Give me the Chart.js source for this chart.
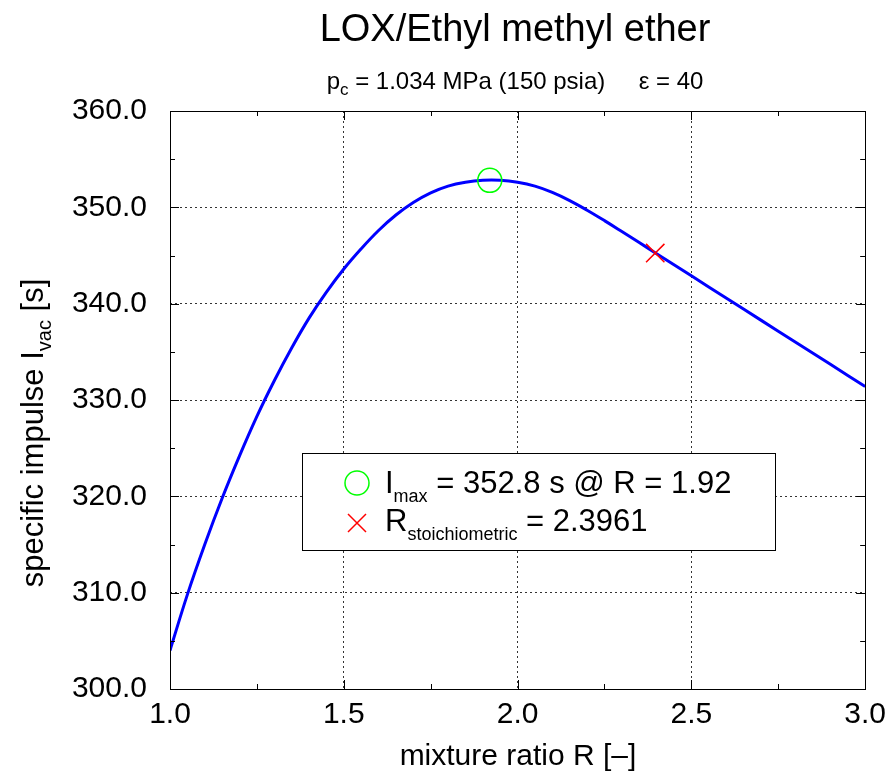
<!DOCTYPE html>
<html>
<head>
<meta charset="utf-8">
<title>LOX/Ethyl methyl ether</title>
<script src="https://cdn.jsdelivr.net/npm/chart.js@4"></script>
<style>
  html, body { margin: 0; padding: 0; background: #fff; }
  canvas { display: block; }
</style>
</head>
<body>
<canvas id="ispChart" width="894" height="775"></canvas>
<script>
// data
const MIXTURE_RATIO = [1.00, 1.05, 1.10, 1.15, 1.20, 1.25, 1.30, 1.35, 1.40, 1.45,
  1.50, 1.55, 1.60, 1.65, 1.70, 1.75, 1.80, 1.85, 1.90, 1.95,
  2.00, 2.05, 2.10, 2.15, 2.20, 2.25, 2.30, 2.35, 2.40, 2.45,
  2.50, 2.60, 2.70, 2.80, 2.90, 3.00];
const ISP_VAC = [304.0, 309.8, 315.0, 319.8, 324.2, 328.3, 332.0, 335.4, 338.5, 341.2,
  343.6, 345.7, 347.6, 349.2, 350.5, 351.5, 352.2, 352.6, 352.8, 352.8,
  352.6, 352.2, 351.55, 350.7, 349.7, 348.62, 347.49, 346.34, 345.19, 344.04,
  342.89, 340.59, 338.29, 336.0, 333.7, 331.4];
const IMAX_POINT = { x: 1.92, y: 352.8 };
const STOICH_POINT = { x: 2.3961, y: 345.25 };

const X_MIN = 1.0, X_MAX = 3.0, X_STEP = 0.5, X_MINOR = 0.25;
const Y_MIN = 300, Y_MAX = 360, Y_STEP = 10, Y_MINOR = 5;

const TITLE = 'LOX/Ethyl methyl ether';
const SUBTITLE = [{ t: 'p' }, { t: 'c', sub: true }, { t: ' = 1.034 MPa (150 psia)     \u03b5 = 40' }];
const X_TITLE = [{ t: 'mixture ratio R [\u2013]' }];
const Y_TITLE = [{ t: 'specific impulse I' }, { t: 'vac', sub: true }, { t: ' [s]' }];
const LEGEND_IMAX = [{ t: 'I' }, { t: 'max', sub: true }, { t: ' = 352.8 s @ R = 1.92' }];
const LEGEND_STOICH = [{ t: 'R' }, { t: 'stoichiometric', sub: true }, { t: ' = 2.3961' }];

const FONT = '"Liberation Sans", Helvetica, Arial, sans-serif';

// text with subscripts
function drawRich(c, parts, x, y, align, size, subSize, subShift) {
  let w = 0;
  parts.forEach(p => {
    c.font = `${p.sub ? subSize : size}px ${FONT}`;
    p.w = c.measureText(p.t).width;
    w += p.w;
  });
  let cx = align === 'center' ? x - w / 2 : (align === 'right' ? x - w : x);
  c.textAlign = 'left';
  c.textBaseline = 'alphabetic';
  parts.forEach(p => {
    c.font = `${p.sub ? subSize : size}px ${FONT}`;
    c.fillText(p.t, cx, p.sub ? y + subShift : y);
    cx += p.w;
  });
}

const decorPlugin = {
  id: 'decor',
  afterDraw(chart) {
    const c = chart.ctx;
    const a = chart.chartArea;
    const xs = chart.scales.x, ys = chart.scales.y;
    c.save();
    c.strokeStyle = '#000';
    c.fillStyle = '#000';
    c.lineWidth = 1;
    c.setLineDash([]);

    // inward tick marks on all four sides
    c.beginPath();
    for (let v = X_MIN; v <= X_MAX + 1e-9; v += X_MINOR) {
      const px = Math.round(xs.getPixelForValue(v)) + 0.5;
      const major = Math.abs(v / X_STEP - Math.round(v / X_STEP)) < 1e-6;
      const len = major ? 9 : 5;
      c.moveTo(px, a.bottom); c.lineTo(px, a.bottom - len);
      c.moveTo(px, a.top); c.lineTo(px, a.top + len);
    }
    for (let v = Y_MIN; v <= Y_MAX + 1e-9; v += Y_MINOR) {
      const py = Math.round(ys.getPixelForValue(v)) + 0.5;
      const major = v % Y_STEP === 0;
      const len = major ? 9 : 5;
      c.moveTo(a.left, py); c.lineTo(a.left + len, py);
      c.moveTo(a.right, py); c.lineTo(a.right - len, py);
    }
    c.stroke();

    // frame
    c.strokeRect(Math.round(a.left) + 0.5, Math.round(a.top) + 0.5,
      Math.round(a.right - a.left), Math.round(a.bottom - a.top));

    // titles
    c.textAlign = 'center';
    c.textBaseline = 'alphabetic';
    c.font = `38px ${FONT}`;
    c.fillText(TITLE, 515, 41);
    drawRich(c, SUBTITLE, 515, 89, 'center', 24, 17, 6);
    drawRich(c, X_TITLE, 518, 765, 'center', 30, 20, 8);

    c.save();
    c.translate(43, 433);
    c.rotate(-Math.PI / 2);
    drawRich(c, Y_TITLE, 0, 0, 'center', 31, 20, 8);
    c.restore();

    // legend box
    const lx = 302, ly = 453, lw = 473, lh = 97;
    c.fillStyle = '#fff';
    c.fillRect(lx, ly, lw, lh);
    c.strokeStyle = '#000';
    c.strokeRect(lx + 0.5, ly + 0.5, lw, lh);

    c.lineWidth = 1.5;
    c.strokeStyle = '#00ff00';
    c.beginPath();
    c.arc(357, 483, 12, 0, Math.PI * 2);
    c.stroke();
    c.strokeStyle = '#ff0000';
    c.beginPath();
    c.moveTo(348, 514); c.lineTo(366, 532);
    c.moveTo(366, 514); c.lineTo(348, 532);
    c.stroke();

    c.fillStyle = '#000';
    drawRich(c, LEGEND_IMAX, 385, 493, 'left', 31, 18, 9);
    drawRich(c, LEGEND_STOICH, 385, 531, 'left', 31, 18, 9);
    c.restore();
  }
};

const ctx = document.getElementById('ispChart').getContext('2d');
const curve = MIXTURE_RATIO.map((r, i) => ({ x: r, y: ISP_VAC[i] }));

new Chart(ctx, {
  type: 'scatter',
  data: {
    datasets: [
      {
        label: 'Isp',
        data: curve,
        showLine: true,
        borderColor: '#0000ff',
        borderWidth: 3,
        pointRadius: 0,
        tension: 0.4,
        order: 2
      },
      {
        label: 'Imax',
        data: [IMAX_POINT],
        pointStyle: 'circle',
        pointRadius: 12,
        borderColor: '#00ff00',
        backgroundColor: 'rgba(0,0,0,0)',
        borderWidth: 1.5,
        order: 1
      },
      {
        label: 'stoich',
        data: [STOICH_POINT],
        pointStyle: 'crossRot',
        pointRadius: 13,
        borderColor: '#ff0000',
        borderWidth: 1.5,
        order: 0
      }
    ]
  },
  options: {
    responsive: false,
    devicePixelRatio: 1,
    animation: false,
    layout: { padding: { left: 0, right: 24, top: 111, bottom: 0 } },
    plugins: { legend: { display: false }, title: { display: false }, tooltip: { enabled: false } },
    scales: {
      x: {
        type: 'linear',
        min: X_MIN,
        max: X_MAX,
        afterFit: s => { s.height = 86; },
        grid: { color: '#333', lineWidth: 1, drawTicks: false },
        border: { display: false, dash: [2, 3] },
        ticks: {
          stepSize: X_STEP,
          padding: 8,
          color: '#000',
          font: { family: FONT, size: 30 },
          callback: v => Number(v).toFixed(1)
        }
      },
      y: {
        type: 'linear',
        min: Y_MIN,
        max: Y_MAX,
        afterFit: s => { s.width = 170; },
        grid: { color: '#333', lineWidth: 1, drawTicks: false },
        border: { display: false, dash: [2, 3] },
        ticks: {
          stepSize: Y_STEP,
          padding: 23,
          color: '#000',
          font: { family: FONT, size: 30 },
          callback: v => Number(v).toFixed(1)
        }
      }
    }
  },
  plugins: [decorPlugin]
});
</script>
</body>
</html>
